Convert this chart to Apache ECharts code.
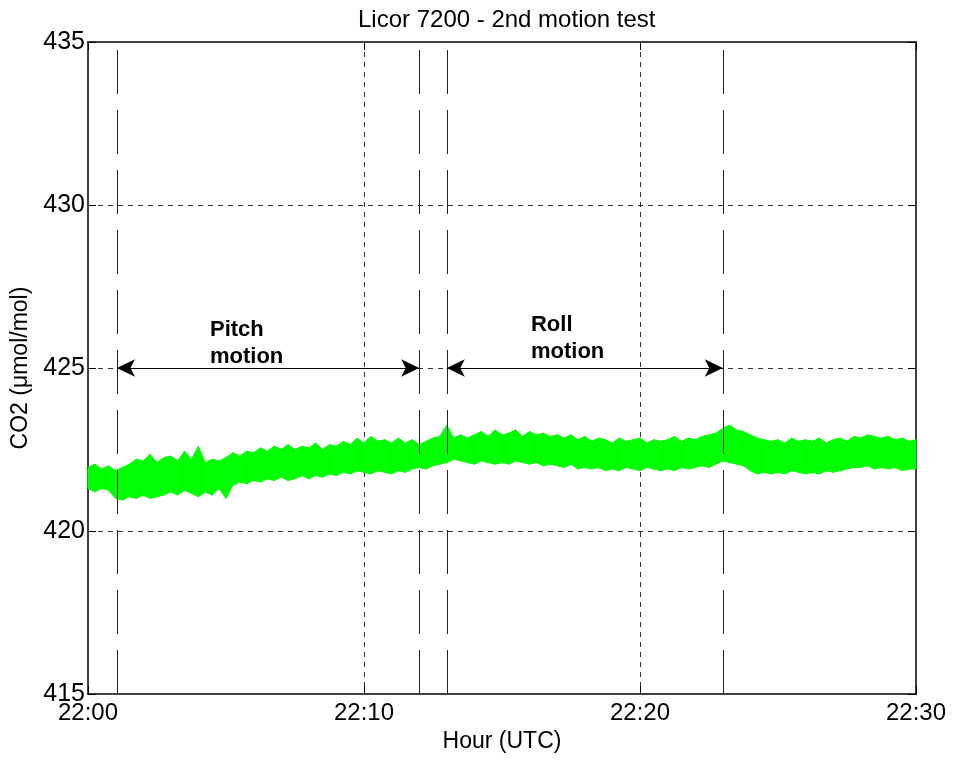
<!DOCTYPE html>
<html>
<head>
<meta charset="utf-8">
<script src="https://cdn.jsdelivr.net/npm/echarts@6/dist/echarts.min.js"></script>
<style>
  html, body { margin: 0; padding: 0; background: #fff; }
  #chart { width: 953px; height: 761px; }
</style>
</head>
<body>
<div id="chart"></div>
<script>
// minutes after 22:00, one envelope pair every 15 s
var sampleStep = 0.25;
// upper edge of the CO2 trace (umol/mol)
var upperPpm = [
  421.95, 422.05, 421.9, 422.0,   421.85, 421.95, 422.05, 422.2,
  422.15, 422.35, 422.1, 422.25,  422.3, 422.15, 422.45, 422.2,
  422.6, 422.1, 422.2, 422.15,    422.25, 422.4, 422.3, 422.45,
  422.4, 422.55, 422.45, 422.6,   422.5, 422.65, 422.5, 422.6,
  422.55, 422.7, 422.5, 422.65,   422.6, 422.75, 422.65, 422.85,
  422.7, 422.9, 422.75, 422.8,    422.7, 422.85, 422.7, 422.8,
  422.65, 422.75, 422.85, 422.9,  423.25, 422.85, 422.95, 422.85,
  422.95, 423.05, 422.9, 423.1,   422.95, 423.0, 423.1, 422.9,
  423.05, 422.95, 423.0, 422.9,   422.95, 422.85, 422.95, 422.8,
  422.9, 422.75, 422.85, 422.8,   422.7, 422.85, 422.75, 422.8,
  422.85, 422.7, 422.8, 422.75,   422.8, 422.9, 422.75, 422.85,
  422.8, 422.9, 422.95, 423.0,    423.15, 423.25, 423.1, 423.05,
  422.95, 422.85, 422.8, 422.75,  422.8, 422.7, 422.85, 422.75,
  422.8, 422.75, 422.85, 422.7,   422.8, 422.85, 422.75, 422.9,
  422.85, 422.95, 422.9, 422.85,  422.9, 422.8, 422.85, 422.75,
  422.8
];
// lower edge of the CO2 trace (umol/mol)
var lowerPpm = [
  421.3, 421.2, 421.3, 421.25,    421.0, 420.95, 421.05, 421.0,
  421.1, 421.0, 421.05, 421.1,    421.2, 421.1, 421.25, 421.15,
  421.05, 421.2, 421.1, 421.3,    421.0, 421.4, 421.5, 421.45,
  421.55, 421.5, 421.6, 421.55,   421.65, 421.55, 421.6, 421.7,
  421.6, 421.7, 421.65, 421.75,   421.7, 421.8, 421.75, 421.85,
  421.8, 421.75, 421.85, 421.8,   421.75, 421.85, 421.8, 421.9,
  421.95, 421.9, 422.0, 422.05,   422.1, 422.2, 422.15, 422.1,
  422.05, 422.15, 422.1, 422.05,  422.1, 422.05, 422.15, 422.1,
  422.05, 422.1, 422.0, 422.05,   422.0, 421.95, 422.05, 421.9,
  421.95, 421.9, 421.95, 421.85,  421.9, 421.85, 421.95, 421.9,
  421.85, 421.95, 421.9, 421.85,  421.9, 421.85, 421.95, 421.9,
  421.95, 422.0, 421.95, 422.05,  422.15, 422.1, 422.05, 422.0,
  421.85, 421.75, 421.8, 421.75,  421.8, 421.75, 421.85, 421.8,
  421.75, 421.8, 421.75, 421.85,  421.8, 421.85, 421.9, 421.95,
  421.95, 422.0, 421.9, 421.95,   421.9, 421.95, 421.85, 421.9,
  421.9
];
var xTickLabels = ['22:00', '22:10', '22:20', '22:30'];
// motion test markers (minutes after 22:00)
var markerMinutes = [1.05, 12, 13, 23];
var pitchRange = [1.05, 12];
var rollRange = [13, 23];
var arrowLevel = 425;

// one item per 15 s step: [minute, lower, upper]
var bandData = upperPpm.map(function (u, i) {
  return [i * sampleStep, lowerPpm[i], u];
});

var font = 'Arial, "Liberation Sans", sans-serif';
var green = '#00ff00';
var chart = echarts.init(document.getElementById('chart'));

// fill the band between this sample and the next one
function renderBand(params, api) {
  var i = params.dataIndex;
  var next = bandData[i + 1];
  if (!next) return null;
  var pts = [
    api.coord([api.value(0), api.value(2)]),
    api.coord([next[0], next[2]]),
    api.coord([next[0], next[1]]),
    api.coord([api.value(0), api.value(1)])
  ];
  return {
    type: 'polygon',
    shape: { points: pts },
    style: { fill: green, stroke: green, lineWidth: 1 }
  };
}

var vLines = markerMinutes.map(function (m) {
  return {
    xAxis: m,
    lineStyle: { color: '#222', width: 1, type: [44, 16] }
  };
});
var arrowStyle = { color: '#000', width: 1, type: 'solid' };
var gridLine = {
  show: true, showMinLine: false, showMaxLine: false,
  lineStyle: { color: '#333', width: 1, type: [5, 5] }
};
var frameLine = { show: true, onZero: false, lineStyle: { color: '#000', width: 1.5 } };
var innerTick = { show: true, inside: true, length: 8, lineStyle: { color: '#000' } };

chart.setOption({
  animation: false,
  backgroundColor: '#fff',
  title: {
    text: 'Licor 7200 - 2nd motion test',
    left: 353,
    top: 3,
    textStyle: { fontFamily: font, fontSize: 24, fontWeight: 'normal', color: '#000' }
  },
  grid: { left: 88, right: 37, top: 42, bottom: 67 },
  xAxis: [{
    type: 'value',
    min: 0, max: 30, interval: 10,
    name: 'Hour (UTC)',
    nameLocation: 'middle',
    nameGap: 36,
    nameTextStyle: { fontFamily: font, fontSize: 23, color: '#000' },
    axisLine: frameLine,
    axisTick: innerTick,
    axisLabel: {
      margin: 7, fontFamily: font, fontSize: 24, color: '#000',
      formatter: function (v) { return xTickLabels[v / 10]; }
    },
    splitLine: gridLine
  }, {
    type: 'value', position: 'top',
    min: 0, max: 30, interval: 10,
    axisLine: frameLine,
    axisTick: innerTick,
    axisLabel: { show: false },
    splitLine: { show: false }
  }],
  yAxis: [{
    type: 'value',
    min: 415, max: 435, interval: 5,
    name: 'CO2 (\u03bcmol/mol)',
    nameLocation: 'middle',
    nameGap: 54,
    nameTextStyle: { fontFamily: font, fontSize: 23, color: '#000' },
    axisLine: frameLine,
    axisTick: innerTick,
    axisLabel: { margin: 3, fontFamily: font, fontSize: 25, color: '#000' },
    splitLine: gridLine
  }, {
    type: 'value', position: 'right',
    min: 415, max: 435, interval: 5,
    axisLine: frameLine,
    axisTick: innerTick,
    axisLabel: { show: false },
    splitLine: { show: false }
  }],
  series: [{
    name: 'CO2',
    type: 'custom',
    renderItem: renderBand,
    data: bandData,
    encode: { x: 0, y: [1, 2] },
    silent: true,
    z: 2
  }, {
    name: 'annotations',
    type: 'line',
    data: [],
    silent: true,
    z: 3,
    markLine: {
      silent: true,
      animation: false,
      symbol: ['none', 'none'],
      label: { show: false },
      symbolSize: [13, 18],
      data: vLines.concat([
        [
          { coord: [pitchRange[0], arrowLevel], symbol: 'arrow', lineStyle: arrowStyle },
          { coord: [pitchRange[1], arrowLevel], symbol: 'arrow' }
        ],
        [
          { coord: [rollRange[0], arrowLevel], symbol: 'arrow', lineStyle: arrowStyle },
          { coord: [rollRange[1], arrowLevel], symbol: 'arrow' }
        ]
      ])
    },
    markPoint: {
      silent: true,
      symbol: 'circle',
      symbolSize: 0,
      label: {
        show: true, position: 'right', distance: 0,
        fontFamily: font, fontSize: 22, fontWeight: 'bold', color: '#000', lineHeight: 27
      },
      data: [
        { coord: [4.42, 425.75], label: { formatter: 'Pitch\nmotion' } },
        { coord: [16.05, 425.9], label: { formatter: 'Roll\nmotion' } }
      ]
    }
  }]
});
</script>
</body>
</html>
